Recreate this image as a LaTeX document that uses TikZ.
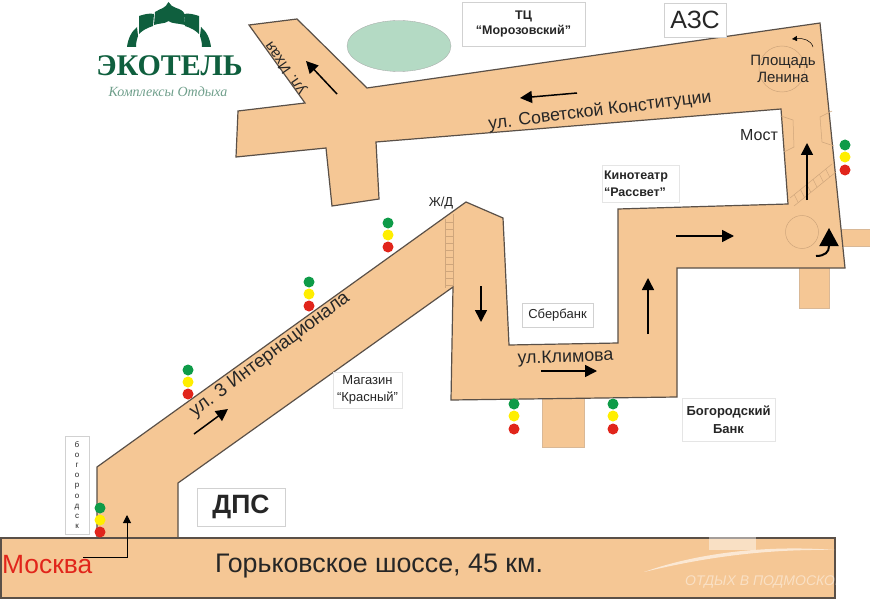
\documentclass[tikz,border=0pt]{standalone}
\usepackage{fontspec}
\setmainfont{Liberation Sans}
\newfontfamily\logofont{Liberation Serif}
\usetikzlibrary{arrows.meta,calc}
\definecolor{roadfill}{HTML}{F5C795}
\definecolor{roadline}{HTML}{5A5048}
\definecolor{thinline}{HTML}{CFA67C}
\definecolor{logogreen}{HTML}{0F5F3E}
\definecolor{lgreen}{HTML}{0E9B48}
\definecolor{lyellow}{HTML}{FFEE00}
\definecolor{lred}{HTML}{E1251B}
\definecolor{pondfill}{HTML}{B4DAC4}
\tikzset{
  road/.style={draw=roadline,fill=roadfill,line width=1.2pt,line join=miter},
  stub/.style={fill=roadfill,draw=thinline!80!white,line width=.4pt},
  dir/.style={draw=black,line width=1.5pt,-{Triangle[length=12pt,width=12pt]}},
  thinl/.style={draw=thinline,line width=.5pt},
  infobox/.style={draw=black!18,fill=white,line width=.8pt,inner sep=0pt,align=center,text=black!85},
  lamp/.style={circle,minimum size=11pt,inner sep=0pt},
  lab/.style={inner sep=0pt,text=black!85,align=center},
}
\newcommand{\tlight}[4]{%
  \node[lamp,fill=lgreen] (#1g) at (#2,#3) {};
  \node[lamp,fill=lyellow] (#1y) at (#2,#3+12) {};
  \node[lamp,fill=lred] (#1r) at (#2,#3+#4) {};
}
\newcommand{\domeside}{%
  \fill[logogreen] (139,16) .. controls (145,14) and (150,13) .. (154,14) -- (153,26) .. controls (147,28) and (143,30) .. (139,34) -- cycle;
  \fill[logogreen] (137,27) .. controls (132,31) and (128,38) .. (127,47) -- (136,47) .. controls (136,42) and (137,39) .. (138,36) -- cycle;
}
\begin{document}
\begin{tikzpicture}[x=1pt,y=-1pt]
\useasboundingbox (0,0) rectangle (870,599);
\fill[white] (0,0) rectangle (870,599);
% stubs
\path[stub] (542,396) rectangle (584,447);
\path[stub] (799,266) rectangle (829,308);
\path[stub] (840,229) rectangle (870,246);
% roads
\path[road] (249,25) -- (297,19) -- (367,88) -- (820,23) -- (845,268) -- (677,268) -- (677,397)
  -- (451,400) -- (453,287) -- (178,483) -- (178,538) -- (97,538) -- (97,467) -- (466,202)
  -- (503,218) -- (509,345) -- (618,343) -- (618,209) -- (788,204) -- (781,109)
  -- (376,142) -- (379,199) -- (332,206) -- (326,148) -- (236,157) -- (238,111) -- (305,103) -- cycle;
\path[road] (1,538) rectangle (835,598);
% pond
\fill[pondfill] (399,46) ellipse [x radius=52, y radius=25.5];
\draw[black!35,line width=.3pt] (399,46) ellipse [x radius=52, y radius=25.5];
% watermark
\begin{scope}
\clip (1,537) rectangle (835,598);
\fill[white,opacity=.45] (709,536) rectangle (756,550);
\fill[white,opacity=.6] (644,572) .. controls (700,552) and (770,545) .. (835,550)
  .. controls (770,549) and (710,556) .. (644,572) -- cycle;
\node[text=white,opacity=.45,font=\itshape\fontsize{14}{14}\selectfont,anchor=west,inner sep=0pt] (wm) at (685,582) {ОТДЫХ В ПОДМОСКОВЬЕ};
\end{scope}
% rail and bridge details
\foreach \y in {222,229,...,285} \draw[thinl] (445,\y) -- (453,\y);
\draw[thinl] (445,219) -- (445,288) (453,214) -- (453,286);
\draw[thinl] (790,198) -- (832,164) (794,206) -- (836,172);
\foreach \t in {0.1,0.25,0.4,0.55,0.7,0.85} \draw[thinl] ($(790,198)!\t!(832,164)$) -- ($(794,206)!\t!(836,172)$);
\draw[thinl] (781,116) -- (793,120) -- (794,147) -- (784,152);
\draw[thinl] (832,111) -- (820,117) -- (822,142) -- (834,146);
\draw[thinl] (802,232) circle (16.5);
\draw[thinl] (782,69) circle (23);
\draw[black,line width=.5pt,-{Triangle[length=5pt,width=5pt]}] (813,47) .. controls (811,40) and (803,38) .. (792,39);
% arrows
\coordinate (a1s) at (337,94); \coordinate (a1e) at (306,61);
\coordinate (a2s) at (577,93); \coordinate (a2e) at (520,98);
\coordinate (a3s) at (807,200); \coordinate (a3e) at (807,143);
\coordinate (a4s) at (676,236); \coordinate (a4e) at (734,236);
\coordinate (a5s) at (648,334); \coordinate (a5e) at (648,278);
\coordinate (a6s) at (541,371); \coordinate (a6e) at (597,371);
\coordinate (a7s) at (481,286); \coordinate (a7e) at (481,322);
\coordinate (a8s) at (194,434); \coordinate (a8e) at (228,409);
\draw[dir] (a1s) -- (a1e);
\draw[dir] (a2s) -- (a2e);
\draw[dir] (a3s) -- (a3e);
\draw[dir] (a4s) -- (a4e);
\draw[dir] (a5s) -- (a5e);
\draw[dir] (a6s) -- (a6e);
\draw[dir] (a7s) -- (a7e);
\draw[dir] (a8s) -- (a8e);
\coordinate (c1) at (816,256); \coordinate (c2) at (829,228);
\draw[draw=black,line width=2pt,-{Triangle[length=18pt,width=19pt]}] (c1) .. controls (825,256) and (829,252) .. (829,246) -- (c2);
\coordinate (m1) at (83,557); \coordinate (m2) at (127,557); \coordinate (m3) at (127,515);
\draw[draw=black,line width=1pt,-{Triangle[length=8pt,width=8pt]}] (m1) -- (m2) -- (m3);
% traffic lights
\tlight{tA}{845}{145}{25}
\tlight{tB}{309}{282}{24}
\tlight{tC}{388}{223}{24}
\tlight{tD}{188}{370}{24}
\tlight{tE}{514}{404}{25}
\tlight{tF}{613}{404}{25}
\tlight{tG}{100}{508}{24}
% boxes
\node[infobox,minimum width=123pt,minimum height=44pt,font=\bfseries\fontsize{12.5}{15.5}\selectfont] (tc) at (523.5,24) {ТЦ\\“Морозовский”};
\node[infobox,minimum width=62pt,minimum height=34pt,font=\fontsize{25}{25}\selectfont] (azs) at (695,20) {АЗС};
\node[infobox,draw=black!10,inner xsep=2pt,text width=73pt,align=left,minimum height=37pt,font=\bfseries\fontsize{12.5}{17}\selectfont] (kino) at (640.5,183.5) {Кинотеатр\\“Рассвет”};
\node[infobox,minimum width=71pt,minimum height=24pt,font=\fontsize{13}{14}\selectfont] (sber) at (557.5,315) {Сбербанк};
\node[infobox,draw=black!10,minimum width=69pt,minimum height=36pt,font=\fontsize{13}{17}\selectfont] (mag) at (367.5,390) {Магазин\\“Красный”};
\node[infobox,draw=black!10,minimum width=93pt,minimum height=43pt,font=\bfseries\fontsize{13}{18}\selectfont] (bog) at (728.5,419.5) {Богородский\\Банк};
\node[infobox,minimum width=88pt,minimum height=38pt,font=\bfseries\fontsize{26.5}{26}\selectfont] (dps) at (241,507) {ДПС};
\node[infobox,minimum width=24pt,minimum height=98pt,font=\fontsize{8}{10.2}\selectfont] (bgd) at (77,485) {б\\о\\г\\о\\р\\о\\д\\с\\к};
% labels
\node[lab,font=\fontsize{26.8}{27}\selectfont] (hw) at (379,566) {Горьковское шоссе, 45 км.};
\node[lab,font=\fontsize{26.4}{27}\selectfont,text=lred,anchor=west] (msk) at (2,565) {Москва};
\node[lab,rotate=37,font=\fontsize{18.7}{19}\selectfont] (int) at (270,355) {ул. 3 Интернационала};
\node[lab,rotate=7,font=\fontsize{17.7}{18}\selectfont] (sov) at (600,111) {ул. Советской Конституции};
\node[lab,rotate=125,font=\fontsize{15}{15}\selectfont] (ix) at (286,68) {ул. Ихая};
\node[lab,font=\fontsize{17.8}{18}\selectfont,rotate=2] (kl) at (565.5,358) {ул.Климова};
\node[lab,font=\fontsize{15}{17}\selectfont] (pl) at (783,69) {Площадь\\Ленина};
\node[lab,font=\fontsize{16}{16}\selectfont] (most) at (759,135) {Мост};
\node[lab,font=\fontsize{13}{13}\selectfont] (zd) at (441,203) {Ж/Д};
% logo
\fill[logogreen] (168.5,2) .. controls (170,5) and (173,7) .. (176,8) .. controls (180,9) and (183,11) .. (184,13) -- (185,25) .. controls (178,23) and (172,24) .. (168.5,21) .. controls (165,24) and (159,23) .. (154,25) -- (155,12) .. controls (158,10) and (161,9) .. (163,8) .. controls (165,7) and (167,5) .. (168.5,2) -- cycle;
\domeside
\begin{scope}[shift={(338,0)},xscale=-1]
\domeside
\end{scope}
\node[inner sep=0pt,text=logogreen,font=\logofont\bfseries\fontsize{30}{30}\selectfont] (logo) at (169.5,66) {ЭКОТЕЛЬ};
\node[inner sep=0pt,text=logogreen!60!white,font=\logofont\itshape\fontsize{14}{14}\selectfont] (logos) at (168,92) {Комплексы Отдыха};
\end{tikzpicture}
\end{document}
